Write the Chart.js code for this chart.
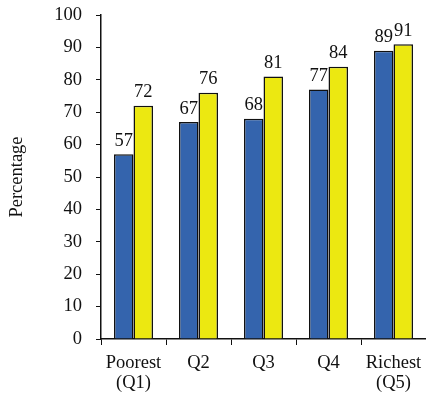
<!DOCTYPE html>
<html>
<head>
<meta charset="utf-8">
<script src="https://cdn.jsdelivr.net/npm/chart.js@4/dist/chart.umd.min.js"></script>
<style>
  html, body { margin: 0; padding: 0; background: #fff; }
  #wrap { width: 426px; height: 394px; position: relative; }
</style>
</head>
<body>
<div id="wrap"><canvas id="quintileChart"></canvas></div>
<script>
// Categories and series values
const categories = [['Poorest', '(Q1)'], 'Q2', 'Q3', 'Q4', ['Richest', '(Q5)']];
const blueValues = [57, 67, 68, 77, 89];
const yellowValues = [72, 76, 81, 84, 91];
const yTicks = [0, 10, 20, 30, 40, 50, 60, 70, 80, 90, 100];

const serif = '"Liberation Serif", "Times New Roman", serif';

// Value labels above each bar
const barLabels = {
    id: 'barLabels',
    afterDatasetsDraw(chart) {
        const ctx = chart.ctx;
        ctx.save();
        ctx.font = '18.5px ' + serif;
        ctx.fillStyle = '#111';
        ctx.textAlign = 'center';
        ctx.textBaseline = 'bottom';
        chart.data.datasets.forEach((ds, i) => {
            chart.getDatasetMeta(i).data.forEach((bar, j) => {
                ctx.fillText(ds.data[j], bar.x, bar.y - 4);
            });
        });
        ctx.restore();
    }
};

const ctx = document.getElementById('quintileChart').getContext('2d');
new Chart(ctx, {
    type: 'bar',
    data: {
        labels: categories,
        datasets: [{
            data: blueValues,
            backgroundColor: '#3464ad',
            borderColor: '#111',
            borderWidth: 1.5,
            borderSkipped: 'bottom'
        }, {
            data: yellowValues,
            backgroundColor: '#ece811',
            borderColor: '#111',
            borderWidth: 1.5,
            borderSkipped: 'bottom'
        }]
    },
    options: {
        responsive: true,
        maintainAspectRatio: false,
        animation: false,
        layout: { padding: { top: 15, right: 0, bottom: 0, left: 0 } },
        datasets: { bar: { categoryPercentage: 0.6, barPercentage: 1.0 } },
        plugins: {
            legend: { display: false },
            tooltip: { enabled: false }
        },
        scales: {
            x: {
                grid: { drawOnChartArea: false, drawTicks: true, tickLength: 6, color: '#111', offset: true },
                border: { color: '#111', width: 1.5 },
                ticks: {
                    color: '#111',
                    font: { family: serif, size: 18.5, lineHeight: 1.1 },
                    maxRotation: 0,
                    autoSkip: false,
                    padding: 8
                },
                afterFit(scale) {
                    scale.height = 55;
                    scale.paddingLeft = 0;
                    scale.paddingRight = 0;
                }
            },
            y: {
                min: 0,
                max: 100,
                afterBuildTicks(scale) { scale.ticks = yTicks.map(v => ({ value: v })); },
                grid: { drawOnChartArea: false, drawTicks: true, tickLength: 5, color: '#111' },
                border: { color: '#111', width: 1.5 },
                ticks: {
                    color: '#111',
                    font: { family: serif, size: 18.5 },
                    padding: 14
                },
                title: {
                    display: true,
                    text: 'Percentage',
                    color: '#111',
                    font: { family: serif, size: 18.5 },
                    padding: { top: 6, bottom: 0 }
                },
                afterFit(scale) {
                    scale.width = 101;
                    scale.paddingTop = 0;
                    scale.paddingBottom = 0;
                }
            }
        }
    },
    plugins: [barLabels]
});
</script>
</body>
</html>
